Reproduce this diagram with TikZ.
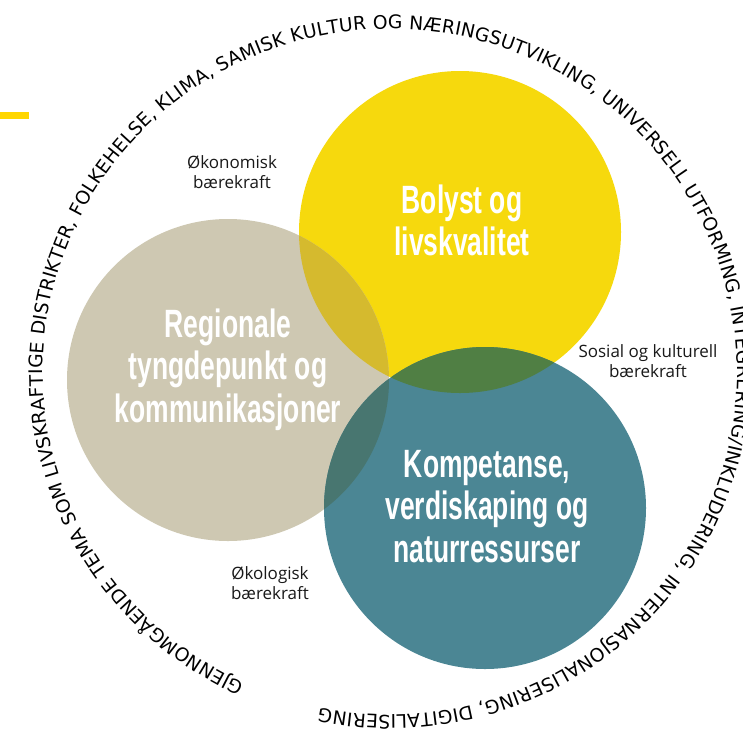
\documentclass[tikz,border=0pt]{standalone}
\usepackage{fontspec}
\setmainfont{Open Sans}
\newfontfamily\arcfont{DejaVu Sans}
\newfontfamily\headfont[FakeStretch=0.67]{Liberation Sans}
\usetikzlibrary{decorations.text}
\definecolor{ycol}{RGB}{246,217,13}
\definecolor{bcol}{RGB}{206,200,178}
\definecolor{tcol}{RGB}{75,134,148}
\definecolor{ybcol}{RGB}{213,186,46}
\definecolor{ytcol}{RGB}{80,127,68}
\definecolor{btcol}{RGB}{72,118,112}
\definecolor{barcol}{RGB}{255,214,0}
\definecolor{labcol}{RGB}{25,25,25}
\tikzset{
  headtext/.style={text=white, align=center, inner sep=0pt,
    font=\headfont\bfseries\fontsize{39.5}{42.5}\selectfont},
  smalltext/.style={text=labcol, align=center, inner sep=0pt,
    font=\fontsize{17}{19.5}\selectfont},
}
\begin{document}
\begin{tikzpicture}[x=1pt,y=-1pt]
\useasboundingbox (0,0) rectangle (743,737);
\fill[white] (0,0) rectangle (743,737);
% accent bar
\fill[barcol] (0,112) rectangle (29,119);
% circle centres
\coordinate (yc) at (460,232);
\coordinate (bc) at (228,380);
\coordinate (tc) at (485,508);
\coordinate (cc) at (390,372);
% circles
\fill[ycol] (yc) circle[radius=161pt];
\fill[bcol] (bc) circle[radius=161pt];
\fill[tcol] (tc) circle[radius=161pt];
\begin{scope}
  \clip (yc) circle[radius=161pt];
  \fill[ybcol] (bc) circle[radius=161pt];
  \fill[ytcol] (tc) circle[radius=161pt];
\end{scope}
\begin{scope}
  \clip (bc) circle[radius=161pt];
  \fill[btcol] (tc) circle[radius=161pt];
\end{scope}
% circle texts
\node[headtext] (bolyst) at (462,220.5) {Bolyst og\\livskvalitet};
\node[headtext] (regional) at (228,369.5) {Regionale\\tyngdepunkt og\\kommunikasjoner};
\node[headtext] (kompetanse) at (487,506.5) {Kompetanse,\\verdiskaping og\\naturressurser};
% small labels
\node[smalltext] (okonomisk) at (232,172) {Økonomisk\\bærekraft};
\node[smalltext] (sosial) at (648,361) {Sosial og kulturell\\bærekraft};
\node[smalltext] (okologisk) at (270,583) {Økologisk\\bærekraft};
% text around the circle
\path[decorate, decoration={text along path, text align={fit to path},
  text={|\arcfont\fontsize{18.7}{19}\selectfont|GJENNOMGÅENDE TEMA SOM LIVSKRAFTIGE DISTRIKTER, FOLKEHELSE, KLIMA, SAMISK KULTUR OG NÆRINGSUTVIKLING, UNIVERSELL UTFORMING, INTEGRERING/INKLUDERING, INTERNASJONALISERING, DIGITALISERING}}]
  (cc) ++(245.3:347pt and 343pt) arc[start angle=245.3, end angle=-101.5, x radius=347pt, y radius=343pt];
\end{tikzpicture}
\end{document}
